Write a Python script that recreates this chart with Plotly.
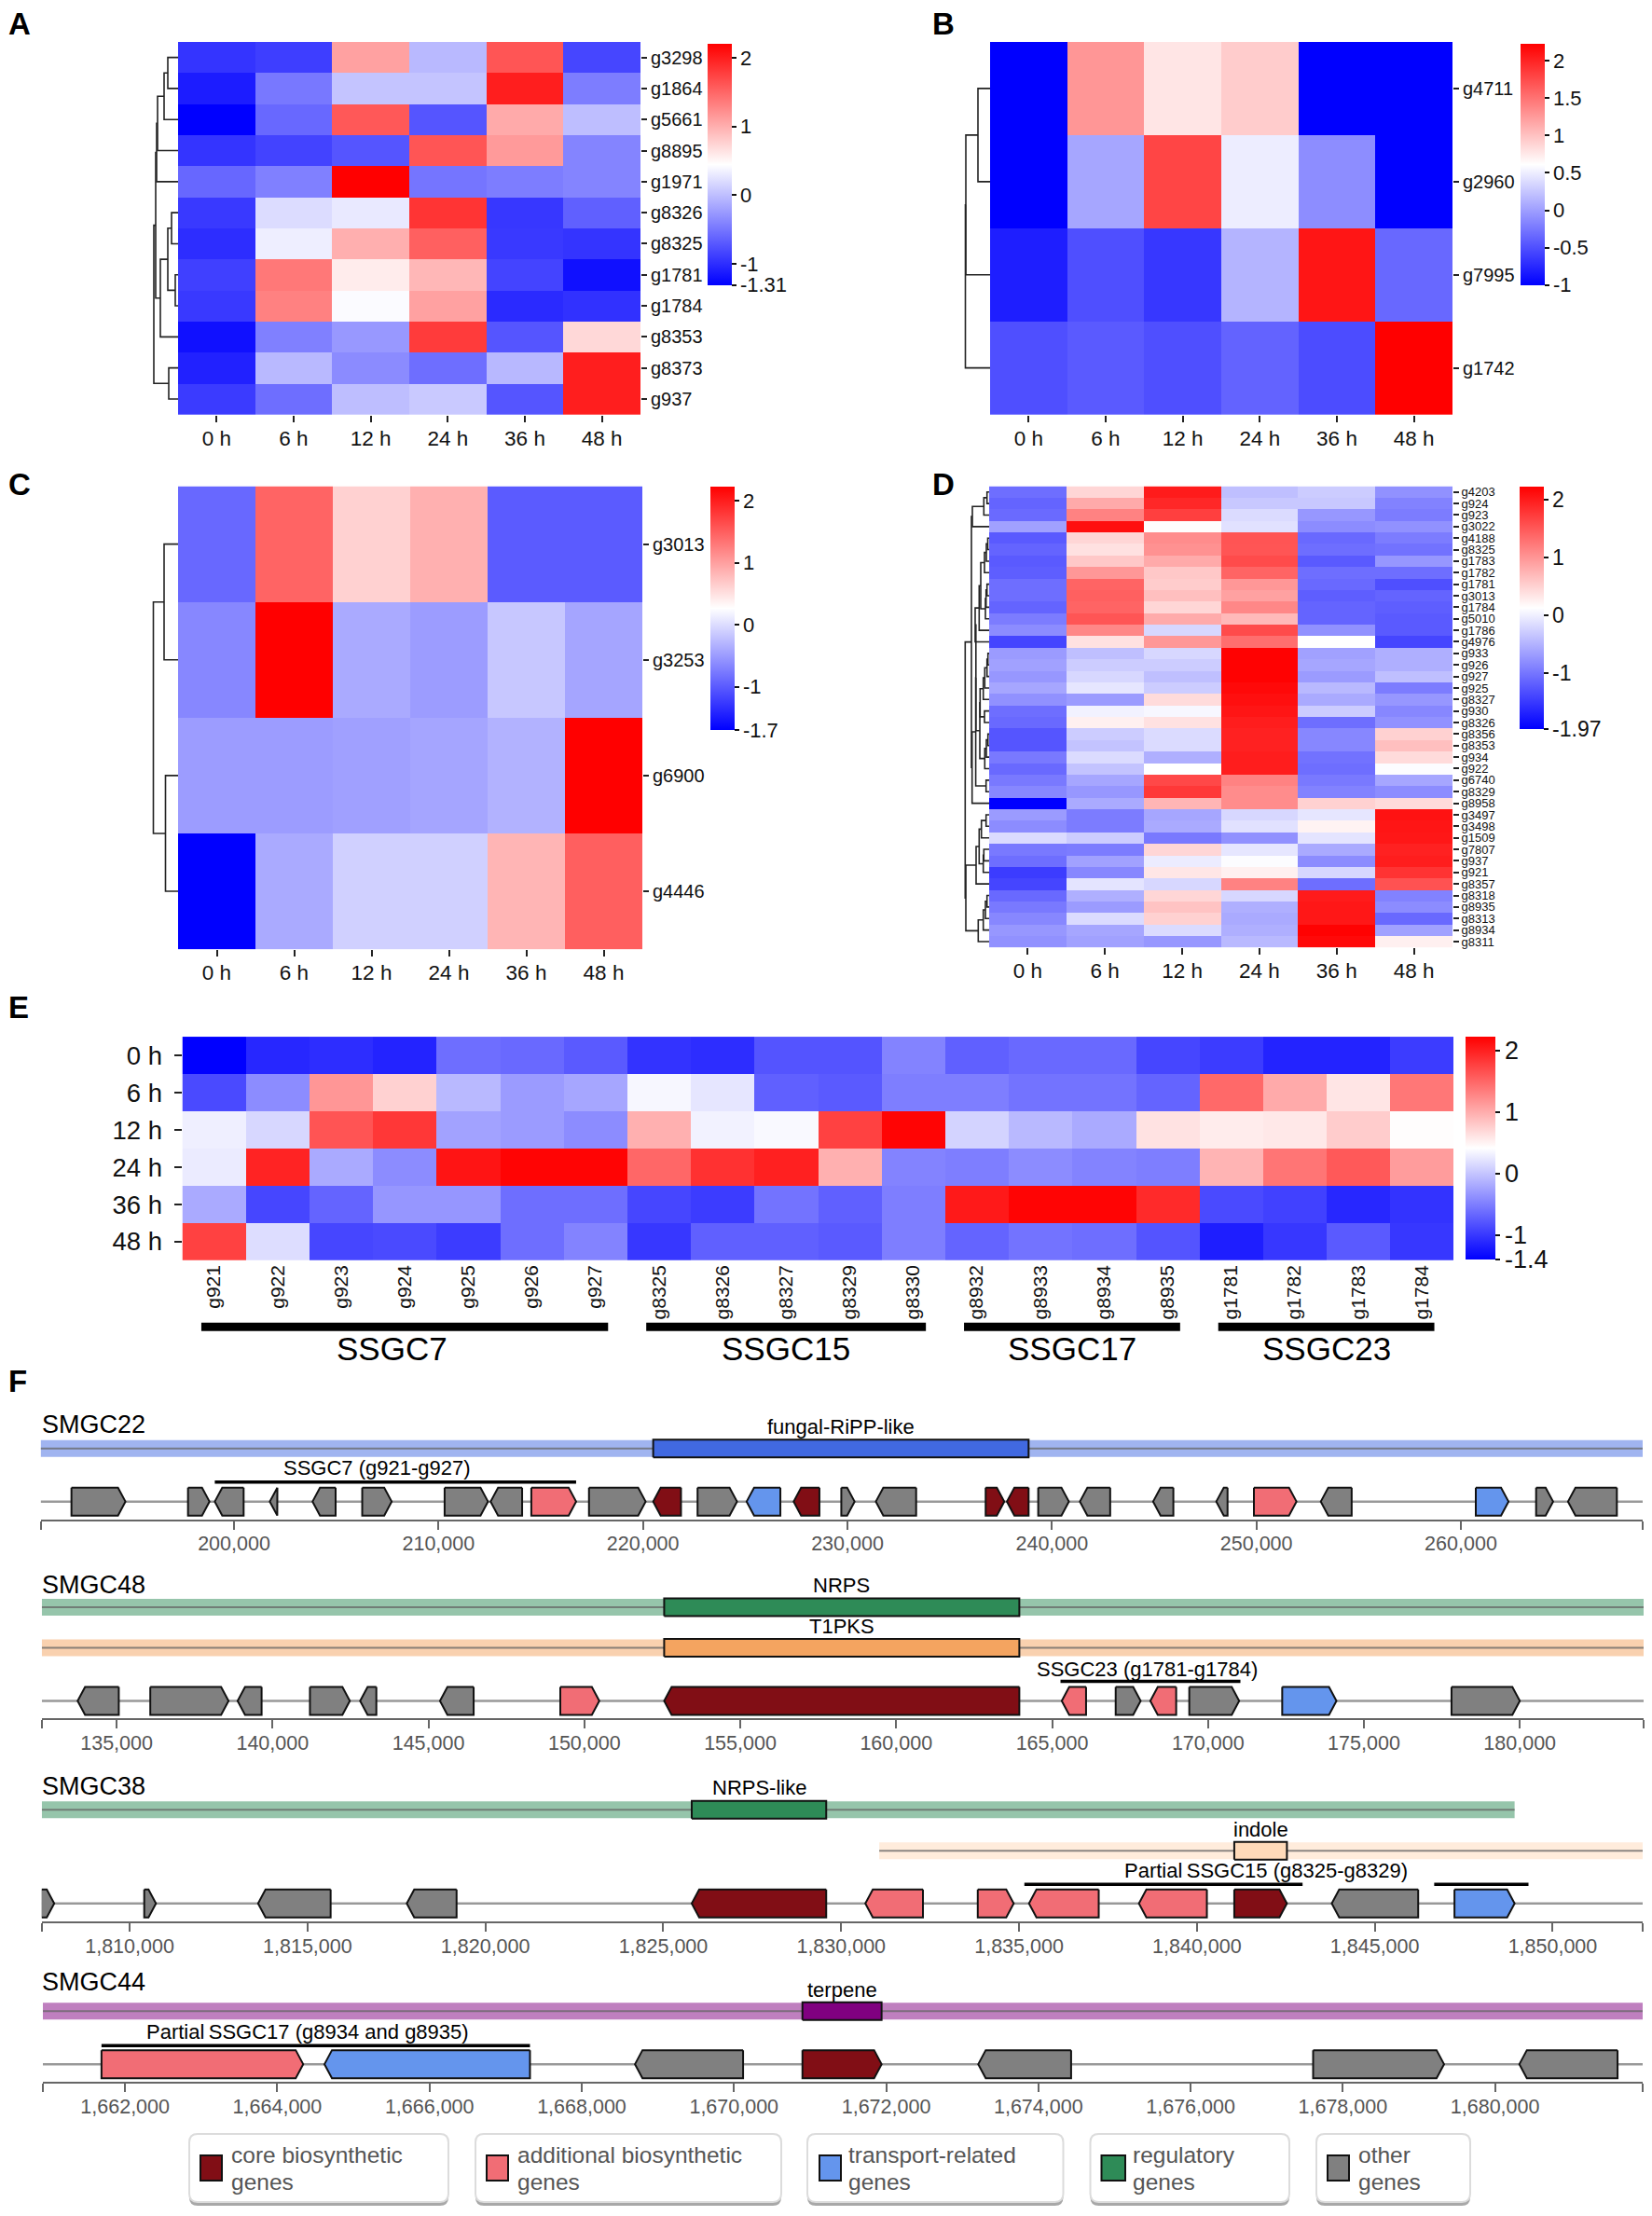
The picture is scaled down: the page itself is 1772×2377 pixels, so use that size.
import plotly.graph_objects as go

W = 1772
H = 2377
FONT = "Liberation Sans"

hours = ["0 h", "6 h", "12 h", "24 h", "36 h", "48 h"]

# panel A
genes_a = ["g3298", "g1864", "g5661", "g8895", "g1971", "g8326", "g8325", "g1781", "g1784", "g8353", "g8373", "g937"]
values_a = [
    [-0.95, -0.88, 1.10, -0.03, 1.62, -0.83],
    [-1.12, -0.48, 0.04, 0.04, 2.0, -0.45],
    [-1.31, -0.59, 1.6, -0.72, 1.04, 0.0],
    [-0.95, -0.85, -0.72, 1.62, 1.15, -0.4],
    [-0.6, -0.43, 2.21, -0.5, -0.45, -0.4],
    [-0.92, 0.21, 0.3, 1.85, -0.93, -0.65],
    [-1.0, 0.33, 1.0, 1.55, -0.92, -0.95],
    [-0.87, 1.38, 0.58, 0.95, -0.84, -1.2],
    [-0.92, 1.32, 0.42, 1.1, -1.02, -0.97],
    [-1.2, -0.43, -0.26, 1.8, -0.72, 0.72],
    [-1.08, -0.03, -0.35, -0.55, -0.04, 2.0],
    [-0.9, -0.55, 0.0, 0.08, -0.72, 2.0],
]
tree_a = (26, (24, (23, (22, (15, (11, 0, 1), 2), 3), 4), (19, (11, (7, 5, 6), (3, 7, 8)), 9)), (10, 10, 11))

# panel B
genes_b = ["g4711", "g2960", "g7995", "g1742"]
values_b = [
    [-1, 1.28, 0.78, 0.94, -1, -1],
    [-1, 0.05, 1.79, 0.5, -0.11, -1],
    [-0.81, -0.5, -0.65, 0.14, 2.1, -0.34],
    [-0.5, -0.43, -0.5, -0.37, -0.52, 2.23],
]
tree_b = (26.5, (26, (13, 0, 1), 2), 3)

# panel C
genes_c = ["g3013", "g3253", "g6900", "g4446"]
values_c = [
    [-0.9, 1.45, 0.61, 0.87, -1.0, -1.0],
    [-0.66, 2.22, -0.39, -0.5, -0.17, -0.43],
    [-0.5, -0.5, -0.47, -0.43, -0.33, 2.22],
    [-1.7, -0.39, -0.1, -0.1, 0.83, 1.49],
]
tree_c = (26.5, (15, 0, 1), (13.5, 2, 3))

# panel D
genes_d = ["g4203", "g924", "g923", "g3022", "g4188", "g8325", "g1783", "g1782", "g1781", "g3013",
           "g1784", "g5010", "g1786", "g4976", "g933", "g926", "g927", "g925", "g8327", "g930",
           "g8326", "g8356", "g8353", "g934", "g922", "g6740", "g8329", "g8958", "g3497", "g3498",
           "g1509", "g7807", "g937", "g921", "g8357", "g8318", "g8935", "g8313", "g8934", "g8311"]
values_d = [
    [-1.07, 0.46, 2.0, -0.4, -0.29, -0.78],
    [-1.15, 0.82, 1.9, -0.33, -0.33, -0.9],
    [-1.1, 1.15, 1.7, -0.17, -0.73, -0.95],
    [-0.65, 2.1, 0.14, -0.12, -0.82, -0.78],
    [-1.23, 0.46, 1.07, 1.53, -1.11, -0.95],
    [-1.15, 0.37, 1.03, 1.52, -1.07, -1.03],
    [-1.23, 0.58, 0.82, 1.6, -1.23, -0.73],
    [-1.2, 0.98, 0.58, 1.4, -1.07, -1.07],
    [-1.07, 1.4, 0.54, 0.98, -1.11, -1.32],
    [-1.07, 1.43, 0.65, 0.9, -1.2, -1.15],
    [-1.15, 1.4, 0.46, 1.11, -1.15, -1.2],
    [-0.95, 1.52, 0.82, 0.7, -1.15, -1.23],
    [-0.82, 1.11, -0.2, 1.6, -0.78, -1.23],
    [-1.4, 0.37, 0.98, 1.32, 0.125, -1.4],
    [-0.7, -0.4, -0.2, 2.2, -0.65, -0.53],
    [-0.65, -0.29, -0.29, 2.2, -0.61, -0.53],
    [-0.73, -0.2, -0.4, 2.2, -0.7, -0.4],
    [-0.61, -0.08, -0.29, 2.15, -0.45, -0.95],
    [-0.78, -0.7, 0.42, 2.1, -0.57, -0.73],
    [-1.07, 0.02, 0.06, 2.05, -0.29, -0.86],
    [-1.11, 0.25, 0.37, 1.98, -1.07, -0.78],
    [-1.27, -0.29, -0.17, 1.95, -0.86, 0.5],
    [-1.27, -0.37, -0.17, 1.95, -0.86, 0.65],
    [-0.98, -0.17, -0.53, 1.98, -1.03, 0.42],
    [-1.11, -0.37, 0.125, 1.98, -1.07, 0.1],
    [-0.98, -0.61, 1.63, 1.15, -0.98, -0.61],
    [-0.86, -0.73, 1.76, 1.07, -0.9, -0.82],
    [-1.97, -0.57, 0.73, 1.07, 0.5, 0.42],
    [-0.7, -0.95, -0.61, -0.2, -0.08, 2.07],
    [-0.82, -0.95, -0.57, -0.12, 0.22, 2.05],
    [-0.17, -0.29, -0.98, -0.78, -0.1, 2.03],
    [-0.98, -0.95, 0.46, -0.08, -0.57, 1.95],
    [-1.07, -0.65, -0.03, 0.1, -0.82, 1.98],
    [-1.48, -0.86, 0.33, 0.25, -0.2, 1.8],
    [-1.4, -0.1, -0.2, 1.15, -1.07, 1.55],
    [-1.11, -0.53, 0.46, -0.2, 2.0, -0.9],
    [-0.98, -0.7, 0.62, -0.53, 2.03, -0.82],
    [-0.86, -0.17, 0.5, -0.57, 2.03, -1.11],
    [-0.73, -0.61, -0.17, -0.53, 2.2, -0.65],
    [-0.78, -0.65, -0.73, -0.45, 2.15, 0.25],
]
tree_d_top = (18, (5.7, (2.3, 0, 1), 2), 3)
tree_d_c1 = (5, (3, (1.5, 4, 5), 6), 7)
tree_d_c2 = (4, (3.3, (2.3, 8, 9), 10), 11)
tree_d_mid = (15, (10.7, (9, tree_d_c1, tree_d_c2), 12), 13)
tree_d_red = (10, (9.7, (6.3, (4.7, (2.3, (1.3, 14, 15), 16), 17), 18), (5, 19, 20)),
              (4.7, (3, (1.3, 21, 22), 23), 24))
tree_d_low = (19, tree_d_top, (18.3, (14.4, (14.2, tree_d_mid, tree_d_red), (3.3, 25, 26)), 27))
tree_d_end = (25, (14, (10.7, (8.3, (3.3, 28, 29), 30), (6.3, (5.7, 31, 32), 33)), 34),
              (11.7, (6.3, (4, (2.3, 35, 36), 37), 38), 39))
tree_d = (25.7, tree_d_low, tree_d_end)

# panel E
genes_e = ["g921", "g922", "g923", "g924", "g925", "g926", "g927", "g8325", "g8326", "g8327", "g8329",
           "g8330", "g8932", "g8933", "g8934", "g8935", "g1781", "g1782", "g1783", "g1784"]
values_e = [
    [-1.4, -1.12, -1.08, -1.15, -0.62, -0.65, -0.76, -1.04, -1.08, -0.8, -0.8, -0.47, -0.72, -0.65, -0.65, -0.9, -0.97, -1.15, -1.15, -0.97],
    [-0.87, -0.4, 1.16, 0.74, -0.08, -0.3, -0.22, 0.36, 0.24, -0.72, -0.76, -0.5, -0.5, -0.58, -0.58, -0.69, 1.48, 1.02, 0.6, 1.38],
    [0.3, 0.13, 1.63, 1.84, -0.25, -0.3, -0.4, 0.98, 0.32, 0.37, 1.77, 2.2, 0.1, -0.08, -0.19, 0.62, 0.55, 0.58, 0.78, 0.43],
    [0.27, 1.98, -0.19, -0.4, 2.09, 2.2, 2.2, 1.5, 1.88, 2.0, 0.98, -0.47, -0.5, -0.4, -0.47, -0.5, 0.95, 1.4, 1.6, 1.12],
    [-0.19, -0.9, -0.69, -0.33, -0.33, -0.62, -0.62, -0.9, -0.97, -0.58, -0.72, -0.5, 2.05, 2.2, 2.2, 1.93, -0.87, -0.94, -1.12, -1.04],
    [1.77, 0.17, -0.9, -0.87, -0.97, -0.62, -0.47, -1.01, -0.72, -0.72, -0.76, -0.5, -0.69, -0.58, -0.62, -0.8, -1.19, -1.01, -0.76, -1.01],
]
cluster_names = ["SSGC7", "SSGC15", "SSGC17", "SSGC23"]
cluster_first = ["g921", "g8325", "g8932", "g1781"]
cluster_last = ["g927", "g8330", "g8935", "g1784"]

# panel F, genes are (start, end, strand, kind)
smgc22_genes = [
    (192050, 194690, 1, "other"), (197750, 198800, 1, "other"), (199060, 200470, -1, "other"),
    (201750, 202120, -1, "other"), (203840, 204970, -1, "other"), (206270, 207710, 1, "other"),
    (210300, 212420, 1, "other"), (212550, 214090, -1, "other"), (214540, 216730, 1, "additional"),
    (217360, 220130, 1, "other"), (220500, 221860, -1, "core"), (222670, 224600, 1, "other"),
    (225070, 226720, -1, "transport"), (227370, 228630, -1, "core"), (229700, 230350, 1, "other"),
    (231390, 233360, -1, "other"), (236760, 237670, 1, "core"), (237800, 238860, -1, "core"),
    (239330, 240830, 1, "other"), (241370, 242850, -1, "other"), (244950, 245940, -1, "other"),
    (248040, 248590, -1, "other"), (249880, 251960, 1, "additional"), (253150, 254660, -1, "other"),
    (260730, 262330, 1, "transport"), (263680, 264510, 1, "other"), (265240, 267630, -1, "other"),
]
smgc22_range = [190543, 268892]
smgc22_ticks = [200000, 210000, 220000, 230000, 240000, 250000, 260000]

smgc48_genes = [
    (133750, 135070, -1, "other"), (136080, 138590, 1, "other"), (138880, 139650, -1, "other"),
    (141200, 142480, 1, "other"), (142810, 143330, -1, "other"), (145370, 146450, -1, "other"),
    (149230, 150480, 1, "additional"), (152560, 163950, -1, "core"), (165310, 166090, -1, "additional"),
    (167040, 167840, 1, "other"), (168150, 168980, -1, "additional"), (169400, 171000, 1, "other"),
    (172380, 174120, 1, "transport"), (177810, 180000, 1, "other"),
]
smgc48_range = [132600, 183970]
smgc48_ticks = [135000, 140000, 145000, 150000, 155000, 160000, 165000, 170000, 175000, 180000]

smgc38_genes = [
    (1807500, 1807880, 1, "other"), (1810410, 1810740, 1, "other"), (1813610, 1815650, -1, "other"),
    (1817790, 1819190, -1, "other"), (1825800, 1829580, -1, "core"), (1830680, 1832300, -1, "additional"),
    (1833840, 1834850, 1, "additional"), (1835280, 1837240, -1, "additional"),
    (1838370, 1840280, -1, "additional"), (1841050, 1842530, 1, "core"), (1843790, 1846220, -1, "other"),
    (1847240, 1848930, 1, "transport"),
]
smgc38_range = [1807530, 1852530]
smgc38_ticks = [1810000, 1815000, 1820000, 1825000, 1830000, 1835000, 1840000, 1845000, 1850000]

smgc44_genes = [
    (1661690, 1664340, 1, "additional"), (1664620, 1667320, -1, "transport"), (1668700, 1670120, -1, "other"),
    (1670900, 1671940, 1, "core"), (1673210, 1674430, -1, "other"), (1677610, 1679330, 1, "other"),
    (1680320, 1681610, -1, "other"),
]
smgc44_range = [1660920, 1681940]
smgc44_ticks = [1662000, 1664000, 1666000, 1668000, 1670000, 1672000, 1674000, 1676000, 1678000, 1680000]

kind_colors = {"core": "#810e15", "additional": "#f16d75", "transport": "#6495ed",
               "regulatory": "#2e8b57", "other": "#808080"}
legend_lines = [("core biosynthetic", "genes"), ("additional biosynthetic", "genes"),
                ("transport-related", "genes"), ("regulatory", "genes"), ("other", "genes")]
legend_kinds = ["core", "additional", "transport", "regulatory", "other"]


def fx(px):
    return px / W


def fy(py):
    return 1 - py / H


scale = [[0, "#0000ff"], [0.5, "#ffffff"], [1, "#ff0000"]]
fig = go.Figure()
axes = {}
annos = []
shapes = []


def tree_lines(node, xs, ys):
    # leaves are row numbers, returns the row position of the node
    if not isinstance(node, tuple):
        return node, 0
    h, a, b = node
    ya, ha = tree_lines(a, xs, ys)
    yb, hb = tree_lines(b, xs, ys)
    xs += [ha, h, h, hb, None]
    ys += [ya, ya, yb, yb, None]
    return (ya + yb) / 2, h


def heat_panel(n, values, genes, tree, box, cbar, zmin, zmax, ticks, label_size, cb_size=22):
    left, top, right, bottom = box
    cl, ct, cr, cb = cbar
    fig.add_trace(go.Heatmap(
        z=values, x=list(range(6)), y=list(range(len(genes))), zmin=zmin, zmax=zmax,
        colorscale=scale, xaxis=f"x{n}", yaxis=f"y{n}",
        colorbar=dict(x=fx(cl), xanchor="left", y=fy(cb), yanchor="bottom", len=(cb - ct) / H, lenmode="fraction",
                      thickness=cr - cl, thicknessmode="pixels", xpad=0, ypad=0, outlinewidth=0,
                      tickmode="array", tickvals=ticks, ticktext=[str(t) for t in ticks],
                      ticks="outside", ticklen=5, tickwidth=1.5, tickcolor="#111",
                      tickfont=dict(family=FONT, size=cb_size, color="#111"))))
    axes[f"xaxis{n}"] = dict(domain=[fx(left), fx(right)], anchor=f"y{n}", tickmode="array", tickvals=list(range(6)),
                             ticktext=hours, ticks="outside", ticklen=7, tickwidth=1.5, tickcolor="#222",
                             tickfont=dict(family=FONT, size=22.5, color="#111"), showgrid=False, zeroline=False,
                             range=[-0.5, 5.5], ticklabelstandoff=-2)
    axes[f"yaxis{n}"] = dict(domain=[fy(bottom), fy(top)], anchor=f"x{n}", side="right", tickmode="array",
                             tickvals=list(range(len(genes))), ticktext=genes, ticks="outside", ticklen=6,
                             tickwidth=1.5, tickcolor="#222", tickfont=dict(family=FONT, size=label_size, color="#111"),
                             showgrid=False, zeroline=False, range=[len(genes) - 0.5, -0.5])
    xs, ys = [], []
    tree_lines(tree, xs, ys)
    dn = n + 5
    fig.add_trace(go.Scatter(x=xs, y=ys, mode="lines", line=dict(color="#222", width=1.6), xaxis=f"x{dn}",
                             yaxis=f"y{n}", cliponaxis=False, showlegend=False, hoverinfo="skip"))
    axes[f"xaxis{dn}"] = dict(domain=[fx(left - 36), fx(left)], anchor=f"y{n}", range=[36, 0], visible=False)


heat_panel(1, values_a, genes_a, tree_a, (191, 44, 687, 444), (759, 46, 785, 305), -1.31, 2.21, [2, 1, 0, -1, -1.31], 20)
heat_panel(2, values_b, genes_b, tree_b, (1062, 44, 1558, 444), (1631, 46, 1657, 305), -1, 2.23, [2, 1.5, 1, 0.5, 0, -0.5, -1], 20)
heat_panel(3, values_c, genes_c, tree_c, (191, 521, 689, 1018), (762, 522, 788, 783), -1.7, 2.22, [2, 1, 0, -1, -1.7], 20)
heat_panel(4, values_d, genes_d, tree_d, (1061, 521, 1558, 1016), (1630, 522, 1656, 782), -1.97, 2.22, [2, 1, 0, -1, -1.97], 13, 23)

# panel E has the genes along x
col = {g: i for i, g in enumerate(genes_e)}
fig.add_trace(go.Heatmap(
    z=values_e, x=list(range(len(genes_e))), y=list(range(6)), zmin=-1.4, zmax=2.23, colorscale=scale,
    xaxis="x5", yaxis="y5",
    colorbar=dict(x=fx(1572), xanchor="left", y=fy(1351), yanchor="bottom", len=239 / H, lenmode="fraction",
                  thickness=32, thicknessmode="pixels", xpad=0, ypad=0, outlinewidth=0, tickmode="array",
                  tickvals=[2, 1, 0, -1, -1.4], ticktext=["2", "1", "0", "-1", "-1.4"], ticks="outside", ticklen=5,
                  tickwidth=1.5, tickcolor="#111", tickfont=dict(family=FONT, size=27, color="#111"))))
axes["xaxis5"] = dict(domain=[fx(195.5), fx(1559)], anchor="y5", tickmode="array", tickvals=list(range(len(genes_e))),
                      ticktext=genes_e, tickangle=-90, ticks="", tickfont=dict(family=FONT, size=21, color="#111"),
                      showgrid=False, zeroline=False, range=[-0.5, len(genes_e) - 0.5])
axes["yaxis5"] = dict(domain=[fy(1352), fy(1112)], anchor="x5", tickmode="array", tickvals=list(range(6)),
                      ticktext=hours, ticks="outside", ticklen=8, tickwidth=1.5, tickcolor="#222",
                      tickfont=dict(family=FONT, size=27.5, color="#111"), showgrid=False, zeroline=False,
                      range=[5.5, -0.5], ticklabelstandoff=7)
for name, first, last in zip(cluster_names, cluster_first, cluster_last):
    x0 = col[first] - 0.2
    x1 = col[last] + 0.2
    shapes.append(dict(type="rect", xref="x5", yref="paper", x0=x0, x1=x1, y0=fy(1428), y1=fy(1419),
                       fillcolor="#000", line=dict(width=0)))
    annos.append(dict(text=name, xref="x5", yref="paper", x=(x0 + x1) / 2, y=fy(1447), showarrow=False,
                      xshift=-14 if name == "SSGC7" else 0, font=dict(family=FONT, size=35, color="#000")))

# panel F tracks, first free axis number is 10 for x and 6 for y
HEAD_PX = 8
tracks = [
    dict(name="SMGC22", base=1630, name_y=102, left=43.6, right=1762, rng=smgc22_range, ticks=smgc22_ticks, genes=smgc22_genes, gene_y=19,
         regions=[("fungal-RiPP-like", 220500, 238860, smgc22_range[0], smgc22_range[1], "65,105,225", 76, 99)],
         spans=[(199060, 216730, 40)], span_labels=[("SSGC7 (g921-g927)", 206980, 55)]),
    dict(name="SMGC48", base=1844, name_y=144, left=44.8, right=1763, rng=smgc48_range, ticks=smgc48_ticks, genes=smgc48_genes, gene_y=19,
         regions=[("NRPS", 152560, 163950, smgc48_range[0], smgc48_range[1], "46,139,87", 119.5, 143),
                  ("T1PKS", 152560, 163950, smgc48_range[0], smgc48_range[1], "244,164,96", 76, 99)],
         spans=[(165270, 171040, 40)], span_labels=[("SSGC23 (g1781-g1784)", 168050, 53)]),
    dict(name="SMGC38", base=2062, name_y=145, left=44.8, right=1762, rng=smgc38_range, ticks=smgc38_ticks, genes=smgc38_genes, gene_y=19.5,
         regions=[("NRPS-like", 1825800, 1829580, smgc38_range[0], 1848930, "46,139,87", 120, 144),
                  ("indole", 1841050, 1842530, 1831070, smgc38_range[1], "255,218,185", 76, 99)],
         spans=[(1835150, 1842970, 40), (1846670, 1849320, 40)],
         span_labels=[("Partial\u2009SSGC15 (g8325-g8329)", 1841950, 55)]),
    dict(name="SMGC44", base=2234, name_y=107, left=46, right=1762, rng=smgc44_range, ticks=smgc44_ticks, genes=smgc44_genes, gene_y=19,
         regions=[("terpene", 1670900, 1671940, smgc44_range[0], smgc44_range[1], "128,0,128", 76, 99)],
         spans=[(1661690, 1667320, 39)], span_labels=[("Partial\u2009SSGC17 (g8934 and g8935)", 1664400, 54)]),
]


def rect_trace(x0, x1, yc, half, fill, line, xa, ya):
    return go.Scatter(x=[x0, x1, x1, x0, x0], y=[yc - half, yc - half, yc + half, yc + half, yc - half], mode="lines",
                      fill="toself", fillcolor=fill, line=line, xaxis=xa, yaxis=ya, cliponaxis=False,
                      showlegend=False, hoverinfo="skip")


for i, t in enumerate(tracks):
    xn = 10 + i
    yn = 6 + i
    xa = f"x{xn}"
    ya = f"y{yn}"
    span = t["rng"][1] - t["rng"][0]
    head = span / (t["right"] - t["left"]) * HEAD_PX
    ends = [t["rng"][0]] + t["ticks"] + [t["rng"][1]]
    labels = [""] + [f"{v:,}" for v in t["ticks"]] + [""]
    axes[f"xaxis{xn}"] = dict(domain=[fx(t["left"]), fx(t["right"])], anchor=ya, range=t["rng"], tickmode="array",
                              tickvals=ends, ticktext=labels, showline=True, linecolor="#666", linewidth=2,
                              ticks="outside", ticklen=9, tickwidth=1.5, tickcolor="#666", showgrid=False,
                              zeroline=False, tickfont=dict(family=FONT, size=21.5, color="#555"),
                              ticklabelstandoff=-3)
    axes[f"yaxis{yn}"] = dict(domain=[fy(t["base"]), fy(t["base"] - 150)], anchor=xa, range=[0, 150], visible=False)
    annos.append(dict(text=t["name"], xref="paper", yref="paper", x=fx(43), y=fy(t["base"] - t["name_y"]),
                      xanchor="left", showarrow=False, font=dict(family=FONT, size=27, color="#000")))
    for label, c0, c1, b0, b1, rgb, yc, ly in t["regions"]:
        fig.add_trace(rect_trace(b0, b1, yc, 9, f"rgba({rgb},0.5)", dict(width=0), xa, ya))
        fig.add_trace(go.Scatter(x=[b0, b1], y=[yc, yc], mode="lines", line=dict(color="rgba(100,100,100,0.75)", width=2),
                                 xaxis=xa, yaxis=ya, showlegend=False, hoverinfo="skip"))
        fig.add_trace(rect_trace(c0, c1, yc, 9.5, f"rgb({rgb})", dict(color="#111", width=2), xa, ya))
        annos.append(dict(text=label, xref=xa, yref=ya, x=(c0 + c1) / 2, y=ly, showarrow=False,
                          font=dict(family=FONT, size=22, color="#000")))
    gy = t["gene_y"]
    fig.add_trace(go.Scatter(x=t["rng"], y=[gy, gy], mode="lines", line=dict(color="#999", width=2.5), xaxis=xa, yaxis=ya,
                             showlegend=False, hoverinfo="skip"))
    for kind, color in kind_colors.items():
        xs, ys = [], []
        for start, end, strand, k in t["genes"]:
            if k != kind:
                continue
            h = min(head, end - start)
            if strand > 0:
                xs += [start, end - h, end, end - h, start, start, None]
            else:
                xs += [end, start + h, start, start + h, end, end, None]
            ys += [gy + 15, gy + 15, gy, gy - 15, gy - 15, gy + 15, None]
        if xs:
            fig.add_trace(go.Scatter(x=xs, y=ys, mode="lines", fill="toself", fillcolor=color,
                                     line=dict(color="#111", width=2), xaxis=xa, yaxis=ya, cliponaxis=False,
                                     showlegend=False, hoverinfo="skip"))
    for s0, s1, sy in t["spans"]:
        fig.add_trace(go.Scatter(x=[s0, s1], y=[sy, sy], mode="lines", line=dict(color="#000", width=3.5), xaxis=xa,
                                 yaxis=ya, showlegend=False, hoverinfo="skip"))
    for label, lx, ly in t["span_labels"]:
        annos.append(dict(text=label, xref=xa, yref=ya, x=lx, y=ly, showarrow=False,
                          font=dict(family=FONT, size=22, color="#000")))


def round_box(x0, y0, x1, y1, r=9):
    return (f"M {fx(x0 + r)} {fy(y0)} L {fx(x1 - r)} {fy(y0)} Q {fx(x1)} {fy(y0)} {fx(x1)} {fy(y0 + r)} "
            f"L {fx(x1)} {fy(y1 - r)} Q {fx(x1)} {fy(y1)} {fx(x1 - r)} {fy(y1)} L {fx(x0 + r)} {fy(y1)} "
            f"Q {fx(x0)} {fy(y1)} {fx(x0)} {fy(y1 - r)} L {fx(x0)} {fy(y0 + r)} Q {fx(x0)} {fy(y0)} {fx(x0 + r)} {fy(y0)} Z")


legend_boxes = [(203, 481), (510, 838), (866, 1140.5), (1169.5, 1383), (1412, 1577)]
legend_swatch = [215, 522, 879, 1181.5, 1424]
legend_swatch_w = [23, 23, 23, 25.5, 23]
legend_text_x = [246, 553, 908.5, 1213, 1454.5]
for (x0, x1), sx, sw, tx, kind, lines in zip(legend_boxes, legend_swatch, legend_swatch_w, legend_text_x, legend_kinds, legend_lines):
    shapes.append(dict(type="path", xref="paper", yref="paper", path=round_box(x0, 2294, x1, 2367), fillcolor="#a8a8a8",
                       line=dict(width=0)))
    shapes.append(dict(type="path", xref="paper", yref="paper", path=round_box(x0, 2290, x1, 2363), fillcolor="#ffffff",
                       line=dict(color="#dcdcdc", width=2)))
    shapes.append(dict(type="rect", xref="paper", yref="paper", x0=fx(sx), x1=fx(sx + sw), y0=fy(2340), y1=fy(2313),
                       fillcolor=kind_colors[kind], line=dict(color="#111", width=2)))
    for line, ly in zip(lines, [2312, 2341]):
        annos.append(dict(text=line, xref="paper", yref="paper", x=fx(tx), y=fy(ly), xanchor="left", showarrow=False,
                          font=dict(family=FONT, size=24.5, color="#555")))

for letter, lx, ly in [("A", 7, 25), ("B", 998, 25), ("C", 7, 519), ("D", 998, 519), ("E", 7, 1080), ("F", 7, 1482)]:
    annos.append(dict(text=f"<b>{letter}</b>", xref="paper", yref="paper", x=fx(lx), y=fy(ly), xanchor="left",
                      showarrow=False, font=dict(family=FONT, size=33, color="#000")))

for a in annos:
    a["yanchor"] = "middle"
    a.setdefault("xanchor", "center")

fig.update_layout(width=W, height=H, autosize=False, margin=dict(l=0, r=0, t=0, b=0), paper_bgcolor="white",
                  plot_bgcolor="white", showlegend=False, annotations=annos, shapes=shapes, **axes)
fig.write_html("out.html", config={"displayModeBar": False},
               post_script="document.body.style.margin='0';document.body.style.overflow='hidden';")
